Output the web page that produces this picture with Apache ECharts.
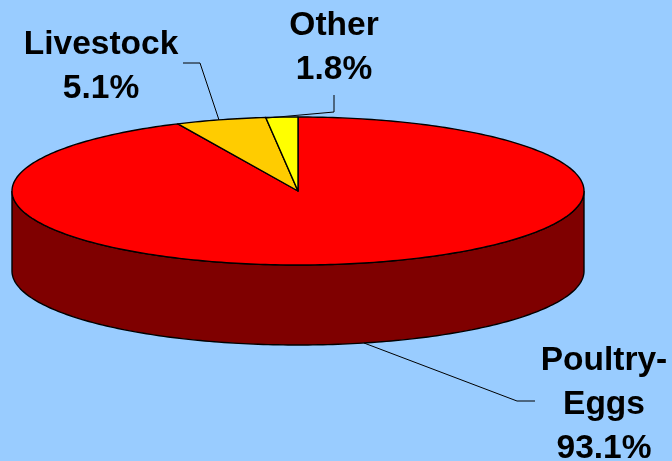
<!DOCTYPE html>
<html>
<head>
<meta charset="utf-8">
<style>html,body{margin:0;padding:0;background:#99ccff}#c{width:672px;height:461px}</style>
<script src="https://cdn.jsdelivr.net/npm/echarts@6/dist/echarts.min.js"></script>
</head>
<body>
<div id="c"></div>
<script>
const categories = ['Poultry-\nEggs', 'Livestock', 'Other'];
const shareValues = [93.1, 5.1, 1.8];
const sliceColors = ['#ff0000', '#ffcc00', '#ffff00'];
const wallColors = ['#7f0000', '#7f6600', '#7f7f00'];

const disc = { cx: 298, cy: 191, rx: 286, ry: 74, depth: 80 };
const labelBoxes = [
  { x: 604, y: 339 },
  { x: 101, y: 23 },
  { x: 334, y: 4 }
];
const leaders = [
  [[364, 343], [517, 401], [535, 401]],
  [[183, 63], [200, 63], [219, 120]],
  [[334, 95], [334, 112], [267, 118]]
];

const total = shareValues.reduce((a, b) => a + b, 0);
const pt = (deg, dy) => {
  const r = deg * Math.PI / 180;
  return [disc.cx + disc.rx * Math.sin(r), disc.cy - disc.ry * Math.cos(r) + (dy || 0)];
};
const arc = (a, b, dy) => {
  const out = [], n = Math.max(2, Math.ceil(Math.abs(b - a)));
  for (let i = 0; i <= n; i++) out.push(pt(a + (b - a) * i / n, dy));
  return out;
};

function renderItem(params, api) {
  const i = params.dataIndex;
  const start = shareValues.slice(0, i).reduce((a, b) => a + b, 0) / total * 360;
  const end = start + api.value(0) / total * 360;
  const children = [];
  const stroke = { stroke: '#000', lineWidth: 1.4 };
  const fa = Math.max(start, 90), fb = Math.min(end, 270);
  if (fb > fa) {
    children.push({
      type: 'polygon',
      shape: { points: arc(fa, fb, 0).concat(arc(fb, fa, disc.depth)) },
      style: Object.assign({ fill: wallColors[i] }, stroke)
    });
  }
  children.push({
    type: 'polygon',
    shape: { points: [[disc.cx, disc.cy]].concat(arc(start, end, 0)) },
    style: Object.assign({ fill: sliceColors[i], lineJoin: 'round' }, stroke)
  });
  children.push({
    type: 'polyline',
    shape: { points: leaders[i] },
    style: { fill: null, stroke: '#000', lineWidth: 1 }
  });
  children.push({
    type: 'text',
    style: {
      x: labelBoxes[i].x, y: labelBoxes[i].y,
      text: categories[i] + '\n' + api.value(0).toFixed(1) + '%',
      fill: '#000',
      font: 'bold 33.5px "Liberation Sans", Arial, sans-serif',
      lineHeight: 44,
      align: 'center',
      verticalAlign: 'top'
    }
  });
  return { type: 'group', children };
}

const chart = echarts.init(document.getElementById('c'), null, { renderer: 'canvas' });
chart.setOption({
  backgroundColor: '#99ccff',
  animation: false,
  series: [{
    type: 'custom',
    coordinateSystem: 'none',
    renderItem,
    silent: true,
    data: shareValues.map((v, i) => ({ name: categories[i], value: [v] }))
  }]
});
</script>
</body>
</html>
